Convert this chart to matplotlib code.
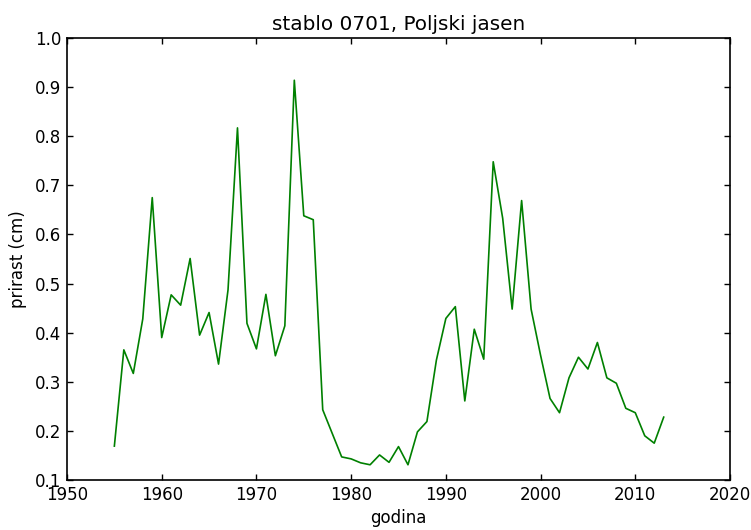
import numpy as np
import matplotlib
matplotlib.use("Agg")
import matplotlib.pyplot as plt

# godine i godisnji prirast (cm), stablo 0701
godine = list(range(1955, 2014))
prirast = [0.169, 0.365, 0.317, 0.428, 0.675, 0.390, 0.477, 0.456, 0.551, 0.395,
           0.441, 0.336, 0.487, 0.817, 0.419, 0.367, 0.478, 0.353, 0.414, 0.914,
           0.638, 0.630, 0.243, 0.195, 0.147, 0.143, 0.135, 0.131, 0.151, 0.136,
           0.168, 0.131, 0.198, 0.219, 0.344, 0.429, 0.453, 0.261, 0.407, 0.346,
           0.748, 0.633, 0.448, 0.669, 0.448, 0.354, 0.266, 0.237, 0.308, 0.350,
           0.326, 0.380, 0.308, 0.297, 0.246, 0.237, 0.190, 0.175, 0.228]

plt.rcParams['font.family'] = 'DejaVu Sans'
plt.rcParams['font.size'] = 12

fig = plt.figure(figsize=(7.51, 5.30), dpi=100)
ax = fig.add_axes([67/751, 50/530, 663/751, 442/530])

ax.plot(godine, prirast, color='green', lw=1.2)

ax.set_xlim(1950, 2020)
ax.set_ylim(0.1, 1.0)
ax.set_xticks(np.arange(1950, 2021, 10))
ax.set_yticks(np.arange(0.1, 1.01, 0.1))
ax.set_yticklabels(['%.1f' % v for v in np.arange(0.1, 1.01, 0.1)])
ax.tick_params(direction='in', top=True, right=True, length=4, width=1, pad=4, labelsize=12)
for s in ax.spines.values():
    s.set_linewidth(1.2)

ax.set_title('stablo 0701, Poljski jasen', fontsize=14.4, pad=6)
ax.set_xlabel('godina', fontsize=12)
ax.set_ylabel('prirast (cm)', fontsize=12, labelpad=6)

fig.savefig('out.png', dpi=100)
